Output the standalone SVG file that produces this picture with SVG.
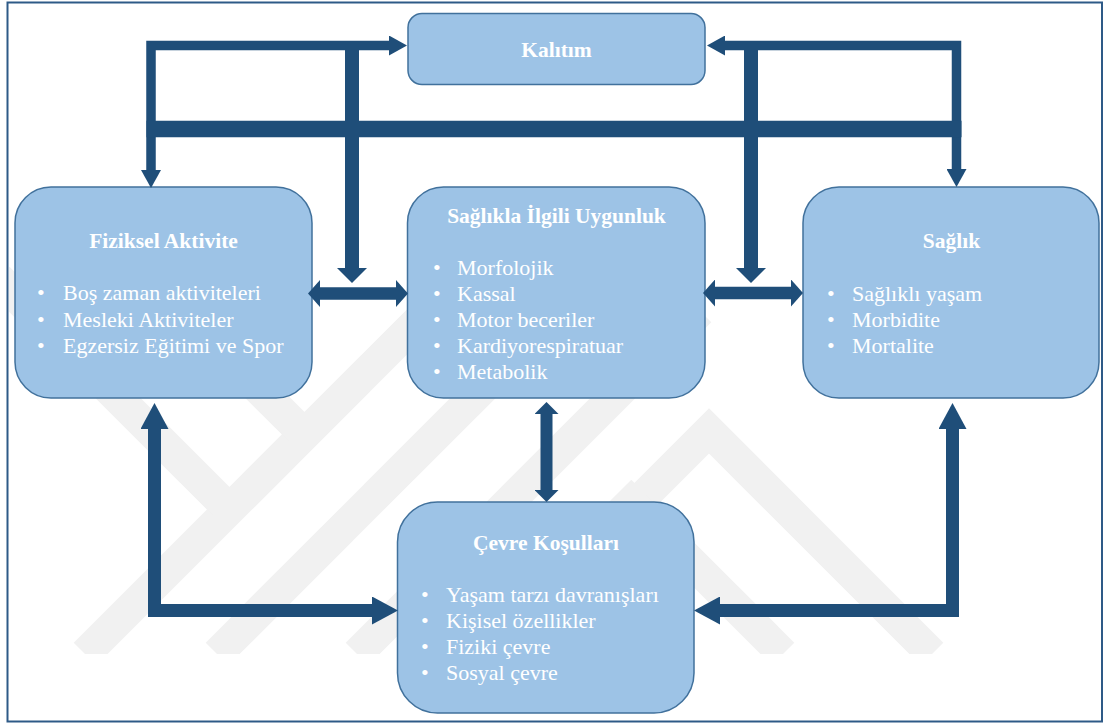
<svg xmlns="http://www.w3.org/2000/svg" width="1105" height="724" viewBox="0 0 1105 724">
  <style>
    .box { fill: #9DC3E6; stroke: #41719C; stroke-width: 1.5; }
    .title { font-family: 'Liberation Serif', 'DejaVu Serif', serif; font-size: 21.5px; font-weight: bold; fill: #FFFFFF; text-anchor: middle; }
    .item { font-family: 'Liberation Serif', 'DejaVu Serif', serif; font-size: 22px; fill: #FFFFFF; }
    .conn { fill: none; stroke: #1F4E79; stroke-linejoin: miter; stroke-linecap: butt; }
    .wm { fill: none; stroke: #F1F1F1; stroke-width: 32; stroke-linejoin: miter; }
  </style>
  <defs>
    <marker id="mA" markerUnits="userSpaceOnUse" markerWidth="18" markerHeight="20" viewBox="0 0 18 20" refX="0" refY="10" orient="auto-start-reverse">
      <path d="M0,0 L18,10 L0,20 Z" fill="#1F4E79"/>
    </marker>
    <marker id="mB" markerUnits="userSpaceOnUse" markerWidth="15" markerHeight="30" viewBox="0 0 15 30" refX="0" refY="15" orient="auto-start-reverse">
      <path d="M0,0 L15,15 L0,30 Z" fill="#1F4E79"/>
    </marker>
    <marker id="mC" markerUnits="userSpaceOnUse" markerWidth="12" markerHeight="27" viewBox="0 0 12 27" refX="0" refY="13.5" orient="auto-start-reverse">
      <path d="M0,0 L12,13.5 L0,27 Z" fill="#1F4E79"/>
    </marker>
    <marker id="mD" markerUnits="userSpaceOnUse" markerWidth="26" markerHeight="28" viewBox="0 0 26 28" refX="0" refY="14" orient="auto-start-reverse">
      <path d="M0,0 L26,14 L0,28 Z" fill="#1F4E79"/>
    </marker>
    <marker id="mE" markerUnits="userSpaceOnUse" markerWidth="12" markerHeight="24" viewBox="0 0 12 24" refX="0" refY="12" orient="auto-start-reverse">
      <path d="M0,0 L12,12 L0,24 Z" fill="#1F4E79"/>
    </marker>
    <clipPath id="wmclip">
      <rect x="9" y="150" width="1092" height="504"/>
    </clipPath>
  </defs>

  <rect x="0" y="0" width="1105" height="724" fill="#FFFFFF"/>

  <g id="watermark" clip-path="url(#wmclip)">
    <path class="wm" d="M85,654 L470,269"/>
    <path class="wm" d="M217,654 L600,271"/>
    <path class="wm" d="M357,654 L700,311"/>
    <path class="wm" d="M-40,240 L230,510"/>
    <path class="wm" d="M120,250 L304,434"/>
    <path class="wm" d="M486,654 L709,431 L932,654"/>
    <path class="wm" d="M620,491 L783,654"/>
  </g>

  <rect id="frame" x="7.5" y="2.5" width="1094.5" height="719" fill="none" stroke="#2E5A87" stroke-width="2"/>

  <g id="node-kalitim">
    <rect class="box" x="408" y="13.5" width="297" height="71" rx="14" ry="14"/>
    <text class="title" x="556.5" y="57">Kalıtım</text>
  </g>

  <g id="node-fiziksel">
    <rect class="box" x="15" y="187" width="297" height="211" rx="36" ry="36"/>
    <text class="title" x="163.5" y="248">Fiziksel Aktivite</text>
    <text class="item" x="37" y="300">•</text><text class="item" x="63" y="300">Boş zaman aktiviteleri</text>
    <text class="item" x="37" y="326.5">•</text><text class="item" x="63" y="326.5">Mesleki Aktiviteler</text>
    <text class="item" x="37" y="353">•</text><text class="item" x="63" y="353">Egzersiz Eğitimi ve Spor</text>
  </g>

  <g id="node-uygunluk">
    <rect class="box" x="407.5" y="187" width="297.5" height="211" rx="36" ry="36"/>
    <text class="title" x="556.5" y="223">Sağlıkla İlgili Uygunluk</text>
    <text class="item" x="433" y="275">•</text><text class="item" x="457" y="275">Morfolojik</text>
    <text class="item" x="433" y="301">•</text><text class="item" x="457" y="301">Kassal</text>
    <text class="item" x="433" y="327">•</text><text class="item" x="457" y="327">Motor beceriler</text>
    <text class="item" x="433" y="353">•</text><text class="item" x="457" y="353">Kardiyorespiratuar</text>
    <text class="item" x="433" y="379">•</text><text class="item" x="457" y="379">Metabolik</text>
  </g>

  <g id="node-saglik">
    <rect class="box" x="803" y="187" width="296" height="211" rx="36" ry="36"/>
    <text class="title" x="951.5" y="248">Sağlık</text>
    <text class="item" x="827" y="300.5">•</text><text class="item" x="852" y="300.5">Sağlıklı yaşam</text>
    <text class="item" x="827" y="326.7">•</text><text class="item" x="852" y="326.7">Morbidite</text>
    <text class="item" x="827" y="353">•</text><text class="item" x="852" y="353">Mortalite</text>
  </g>

  <g id="node-cevre">
    <rect class="box" x="397.5" y="502" width="296.5" height="211" rx="40" ry="40"/>
    <text class="title" x="546" y="550">Çevre Koşulları</text>
    <text class="item" x="421" y="602">•</text><text class="item" x="446" y="602">Yaşam tarzı davranışları</text>
    <text class="item" x="421" y="628">•</text><text class="item" x="446" y="628">Kişisel özellikler</text>
    <text class="item" x="421" y="654">•</text><text class="item" x="446" y="654">Fiziki çevre</text>
    <text class="item" x="421" y="680">•</text><text class="item" x="446" y="680">Sosyal çevre</text>
  </g>

  <g id="connectors">
    <path class="conn" d="M389,45.5 H151 V170" stroke-width="9.5" marker-start="url(#mA)" marker-end="url(#mA)"/>
    <path class="conn" d="M725,45.5 H956.5 V169" stroke-width="9.5" marker-start="url(#mA)" marker-end="url(#mA)"/>
    <path class="conn" d="M146.5,129 H961.5" stroke-width="16.5"/>
    <path class="conn" d="M352,50 V268" stroke-width="14" marker-end="url(#mB)"/>
    <path class="conn" d="M751,50 V268" stroke-width="14" marker-end="url(#mB)"/>
    <path class="conn" d="M320,293.5 H396" stroke-width="12.5" marker-start="url(#mC)" marker-end="url(#mC)"/>
    <path class="conn" d="M715,293 H791" stroke-width="12.5" marker-start="url(#mC)" marker-end="url(#mC)"/>
    <path class="conn" d="M546.5,414 V490" stroke-width="12" marker-start="url(#mE)" marker-end="url(#mE)"/>
    <path class="conn" d="M154.5,429 V610.5 H372" stroke-width="13" marker-start="url(#mD)" marker-end="url(#mD)"/>
    <path class="conn" d="M952.5,429 V610.5 H720" stroke-width="13" marker-start="url(#mD)" marker-end="url(#mD)"/>
  </g>
</svg>
